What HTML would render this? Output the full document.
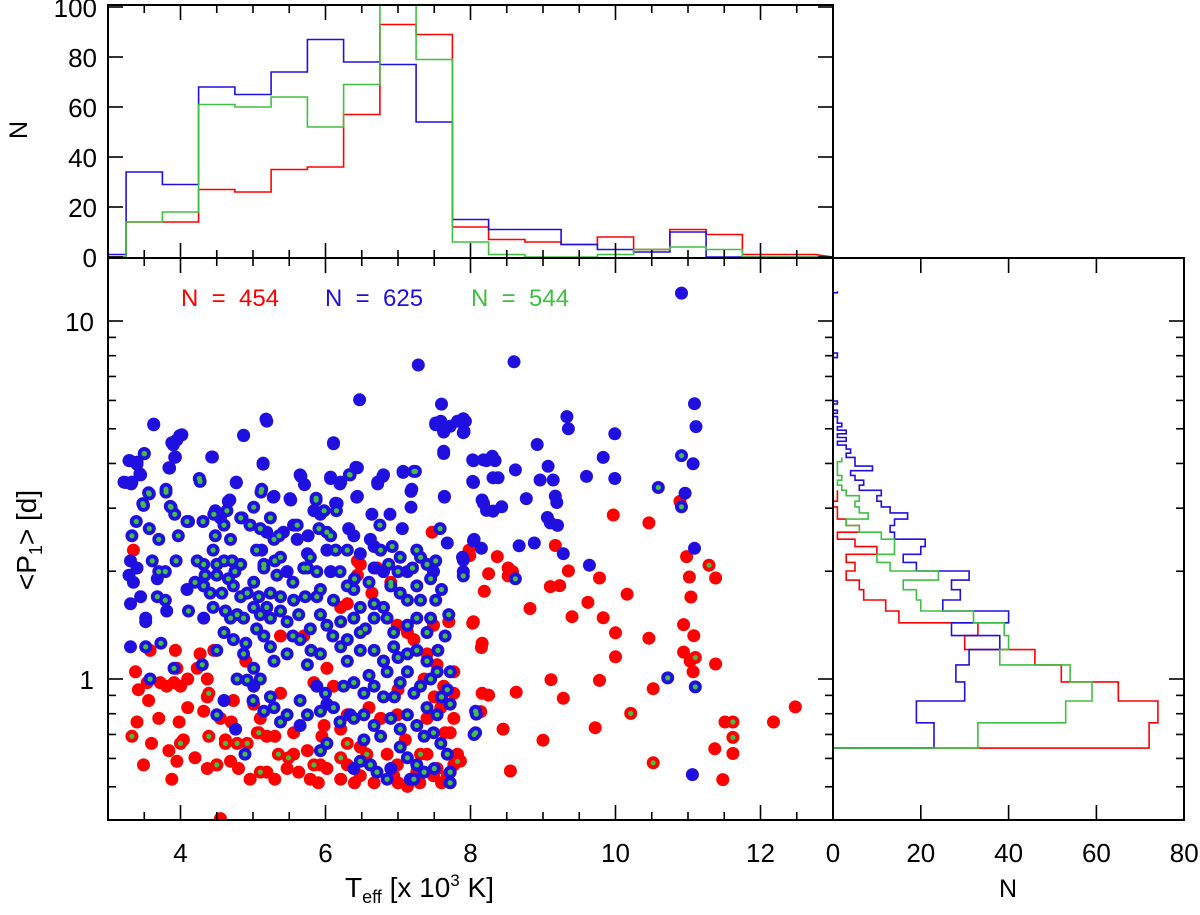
<!DOCTYPE html>
<html><head><meta charset="utf-8"><style>
html,body{margin:0;padding:0;background:#fff;}
svg{display:block;font-family:"Liberation Sans",sans-serif;}
</style></head><body>
<svg id="chart" width="1200" height="915" viewBox="0 0 1200 915" xmlns="http://www.w3.org/2000/svg">
<g id="marks"></g>
<g id="hists"></g>
<g id="axes"></g>
<text x="181" y="306" font-size="24" fill="#ff0000" xml:space="preserve">N  =  454</text>
<text x="325" y="306" font-size="24" fill="#2010e0" xml:space="preserve">N  =  625</text>
<text x="471" y="306" font-size="24" fill="#40c040" xml:space="preserve">N  =  544</text>
<text x="345" y="897" font-size="28">T<tspan font-size="18" dy="6">eff</tspan><tspan dy="-6"> [x 10</tspan><tspan font-size="17" dy="-11">3</tspan><tspan dy="11"> K]</tspan></text>
<text x="1008" y="897" font-size="25" text-anchor="middle">N</text>
<text transform="translate(36,540) rotate(-90)" font-size="28" text-anchor="middle">&lt;P<tspan font-size="18" dy="6">1</tspan><tspan dy="-6">&gt; [d]</tspan></text>
<text transform="translate(27,130) rotate(-90)" font-size="25" text-anchor="middle">N</text>
</svg>
<script>
// ---------- data ----------
const topBinStart = 2.75, topBinWidth = 0.5;
const blueTop  = [1,34,29,68,65,74,87,78,77,54,15,11,11,5,3,2,10,0,0,0];
const redTop   = [0,14,14,27,26,35,36,57,93,89,12,7,6,5,8,3,11,9,1,1];
const greenTop = [0,14,18,61,60,64,52,69,115,79,6,1,0,0,1,3,4,3,0,0];
const rightBinStart = 0.641, rightBinWidth = 0.1135;
const blueRight  = [23,19,30,28,31,38,27,40,25,29,27,31,19,16,20,21,14,13,14,17,13,11,10,11,6,7,5,4,9,5,5,3,4,3,1,3,1,3,1,2,1,1,0,1,0,0,1,0,0,0,0,0,0,0,0,0,0,0,0,0,0,0,0,0,1,1,0,0,0,0,0,0,0,0,0,0,0,0,0,0,0,0,0,0,0,0,0,0,0,0,0,0,0,0,0,0,0,0,0,0,1];
const greenRight = [33,53,59,54,38,40,39,32,20,19,16,24,13,10,14,14,11,6,3,8,6,5,6,3,2,1,2,1,1,1,2];
const redRight   = [72,74,65,52,46,30,33,15,12,7,6,3,5,3,10,5,1,6,3,1,1,0,1,1];
const xTicks = [4,6,8,10,12];
const topYTicks = [0,20,40,60,80,100];
const rightXTicks = [0,20,40,60,80];
const yTicks = [1,10];
// stars: [Teff (10^3 K), log10 <P1> (d)]
const blueOnly = [
[7.28,0.877],[6.47,0.780],[7.60,0.768],[3.63,0.712],[5.18,0.726],[4.87,0.681],[4.02,0.682],[3.95,0.668],[3.90,0.654],[3.92,0.619],[3.30,0.61],[3.40,0.606],[3.85,0.589],[3.44,0.573],[3.24,0.549],[3.32,0.545],[4.43,0.620],[5.14,0.603],[6.11,0.657],[7.52,0.715],[7.59,0.720],[7.63,0.692],[7.72,0.706],[7.90,0.727],[7.93,0.720],[7.91,0.692],[7.63,0.636],[8.03,0.612],[8.18,0.612],[8.03,0.552],[4.77,0.548],[5.66,0.566],[5.71,0.543],[6.07,0.564],[6.20,0.545],[6.42,0.591],[6.72,0.545],[6.79,0.566],[7.07,0.577],[7.18,0.524],[7.64,0.508],[5.28,0.508],[5.51,0.504],[6.43,0.508],[6.14,0.491],[4.66,0.496],
[10.91,1.078],[8.60,0.886],[11.09,0.769],[11.11,0.705],[7.90,0.718],[7.90,0.688],[9.33,0.733],[9.35,0.699],[9.99,0.685],[8.92,0.655],[8.04,0.61],[8.22,0.61],[8.30,0.622],[8.34,0.61],[8.04,0.549],[8.31,0.562],[8.38,0.562],[8.62,0.584],[9.07,0.594],[8.96,0.556],[9.14,0.556],[9.83,0.619],[9.60,0.566],[9.99,0.560],[11.07,0.601],[10.96,0.519],[8.18,0.491],[8.22,0.471],[8.31,0.469],[8.43,0.481],[8.77,0.504],[9.17,0.511],[9.19,0.493],[9.06,0.451],[9.10,0.436],[9.20,0.429],[8.04,0.386],[8.15,0.365],[7.90,0.332],[8.67,0.372],[8.88,0.380],[9.28,0.350],[9.64,0.318],[11.09,0.365],[11.06,-0.267],
[3.63,0.71],[5.19,0.72],[3.99,0.68],[3.88,0.66],[4.87,0.68],[6.11,0.66],[3.93,0.62],[4.44,0.62],[3.84,0.59],[3.29,0.61],[3.40,0.60],[3.45,0.57],[3.22,0.55],[3.33,0.55],[5.14,0.60],[4.77,0.55],[5.65,0.57],[6.07,0.56],[6.21,0.55],[6.44,0.59],[6.72,0.55],[6.80,0.57],[7.07,0.58],[7.19,0.53],[7.18,0.48],[7.64,0.51],[7.63,0.63],[7.52,0.71],[7.63,0.69],[7.82,0.72],[7.91,0.69],[8.04,0.61],[8.04,0.55],[8.16,0.50],[5.52,0.50],[5.29,0.51],[6.44,0.51],[6.16,0.49],[5.84,0.47],[5.93,0.46],[4.68,0.50],[4.11,0.44],[4.48,0.47],[4.55,0.45],[5.19,0.41],[4.85,0.45],[6.64,0.46],[6.89,0.46],[7.06,0.42],[6.32,0.42],[6.39,0.40],[6.62,0.39],[6.67,0.37],[5.76,0.40],[5.61,0.39],[5.12,0.36],[5.42,0.41],[5.56,0.43],[7.68,0.38],[8.05,0.39],[7.89,0.34],[7.90,0.30],[3.31,0.33],[3.40,0.31],[3.29,0.29],[3.35,0.27],[3.45,0.23],[3.31,0.21],[3.52,0.17],[3.52,0.16],[3.81,0.19],[3.68,0.28],[4.09,0.25],[4.32,0.17],[5.47,0.30],[5.75,0.35],[6.02,0.36],[6.07,0.30],[6.48,0.35],[6.67,0.31],[6.80,0.30],[7.13,0.30],[7.49,0.30],[3.31,0.09],[4.60,-0.06],[4.76,-0.14],[5.01,-0.02],[5.88,-0.02],[6.02,-0.07],[6.34,-0.10],[5.65,-0.13],[6.39,-0.25],[6.62,-0.24],[6.90,-0.25],[7.17,-0.28]
];
const blueGreen = [
[3.50,0.629],[4.27,0.552],[3.57,0.517],[3.80,0.522],[6.33,0.571],[7.22,0.580],[5.11,0.522],[5.87,0.505],[3.49,0.485],[3.86,0.482],
[10.91,0.624],[10.59,0.535],[10.91,0.481],[7.90,0.288],[8.62,0.280],[10.72,0.003],[11.10,-0.022],[8.08,-0.098],[8.05,-0.155],
[3.50,0.63],[4.26,0.56],[3.56,0.52],[3.80,0.53],[3.48,0.49],[3.87,0.48],[3.92,0.46],[3.39,0.44],[3.57,0.42],[3.33,0.40],[3.70,0.39],[3.97,0.40],[4.09,0.44],[4.31,0.44],[4.46,0.46],[4.64,0.47],[4.60,0.43],[4.48,0.40],[4.69,0.39],[4.83,0.45],[4.96,0.43],[5.10,0.42],[5.01,0.48],[5.12,0.53],[5.24,0.45],[5.29,0.39],[5.36,0.40],[5.61,0.43],[5.38,0.34],[5.15,0.32],[5.87,0.50],[5.98,0.47],[6.15,0.47],[5.91,0.42],[6.02,0.41],[6.07,0.40],[6.34,0.57],[6.14,0.36],[6.30,0.36],[6.75,0.43],[6.76,0.36],[6.92,0.37],[7.24,0.58],[7.26,0.36],[7.58,0.42],[7.52,0.33],[7.40,0.32],[7.31,0.34],[6.87,0.32],[7.03,0.34],
[3.61,0.33],[3.70,0.30],[3.79,0.30],[3.94,0.33],[4.23,0.33],[4.32,0.32],[4.50,0.32],[4.60,0.33],[4.71,0.33],[4.83,0.32],[4.34,0.29],[4.50,0.29],[4.66,0.28],[4.73,0.26],[5.01,0.27],[5.15,0.31],[5.33,0.29],[5.79,0.34],[5.75,0.31],[5.88,0.30],[5.93,0.25],[4.32,0.26],[4.41,0.24],[4.57,0.24],[4.83,0.23],[4.92,0.24],[5.08,0.23],[5.24,0.24],[5.38,0.23],[5.19,0.20],[5.38,0.19],[5.56,0.22],[5.72,0.23],[5.88,0.23],[6.11,0.22],[6.30,0.26],[6.39,0.25],[6.48,0.20],[6.67,0.21],[6.80,0.20],[7.03,0.24],[7.13,0.22],[7.26,0.26],[7.31,0.22],[7.52,0.22],[3.68,0.23],[3.79,0.22],[4.11,0.19],[4.62,0.19],[4.69,0.17],[4.78,0.18],[4.87,0.17],[5.01,0.20],[5.10,0.18],[5.24,0.17],[5.47,0.16],[5.63,0.18],[5.79,0.14],[5.93,0.18],[6.02,0.15],[6.21,0.16],[6.39,0.17],[6.48,0.13],[6.67,0.17],[6.85,0.17],[6.94,0.13],[7.13,0.15],[7.26,0.17],[7.40,0.13],
[4.60,0.13],[4.73,0.11],[4.50,0.08],[4.87,0.07],[5.01,0.03],[5.15,0.12],[5.24,0.09],[5.29,0.05],[5.47,0.07],[5.65,0.11],[5.75,0.04],[5.93,0.07],[6.21,0.09],[6.30,0.05],[6.48,0.08],[6.67,0.08],[6.80,0.05],[6.94,0.09],[7.13,0.07],[7.26,0.08],[7.40,0.05],[7.54,0.02],[7.72,0.02],[3.52,0.09],[3.73,0.10],[3.91,0.03],[4.30,0.04],[3.58,0.00],[4.78,0.00],[4.92,-0.003],[5.10,0.00],[5.24,-0.05],[5.29,-0.08],[5.47,-0.10],[5.38,-0.12],[5.65,-0.06],[5.75,-0.10],[5.93,-0.09],[6.11,-0.08],[6.25,-0.02],[6.39,-0.01],[6.53,-0.04],[6.67,-0.02],[6.80,-0.05],[7.03,-0.01],[7.13,0.02],[7.22,-0.04],[7.31,-0.02],[7.40,-0.08],[7.54,-0.10],[7.68,-0.03],[7.72,-0.07],[6.39,-0.11],[6.53,-0.10],[6.67,-0.13],[6.76,-0.16],[6.90,-0.11],[7.03,-0.14],[7.13,-0.10],[7.26,-0.13],[7.36,-0.16],[7.49,-0.15],[7.59,-0.18],[7.68,-0.21],[7.72,-0.26],[7.72,-0.29],[6.48,-0.23],[6.62,-0.24],[6.71,-0.26],[6.85,-0.28],[7.03,-0.19],[7.13,-0.22],[7.26,-0.24],[7.36,-0.26],[7.22,-0.28],[6.53,-0.17],[6.02,-0.18],[5.93,-0.20],[4.50,-0.10],[4.89,-0.21],[8.07,-0.15],[8.07,-0.09],
[4.45,0.36],[4.75,0.30],[5.05,0.36],[5.30,0.33],[5.55,0.27],[5.70,0.31],[6.20,0.30],[6.40,0.28],[6.60,0.27],[6.90,0.26],[7.00,0.30],[7.20,0.31],[7.45,0.28],[7.60,0.25],[7.70,0.18],[7.65,0.12],[7.55,0.08],[7.45,0.17],[6.10,0.12],[6.30,0.11],[6.55,0.14],[5.55,0.12],[5.05,0.14],[4.90,0.10],[4.45,0.20],[4.20,0.27],[6.85,0.02],[7.00,0.06],[6.95,-0.05],[5.00,-0.06],[5.15,-0.09],[6.20,-0.12],[6.00,-0.04],[5.80,0.08],[6.60,0.01],[7.45,0.00],[7.60,-0.05],[7.50,-0.25]
];
const redOnly = [
[9.97,0.458],[10.46,0.436],[10.89,0.496],[9.17,0.373],[7.99,0.345],[8.37,0.342],[8.52,0.310],[8.58,0.300],[8.52,0.288],[8.25,0.294],[8.19,0.245],[9.10,0.258],[9.23,0.261],[9.35,0.302],[9.78,0.282],[10.16,0.237],[8.82,0.197],[9.62,0.214],[9.40,0.174],[9.83,0.171],[8.03,0.156],[10.0,0.129],[10.46,0.114],[8.15,0.088],[10.0,0.062],[10.98,0.342],[11.02,0.285],[11.04,0.229],[11.38,0.282],[10.94,0.152],[11.08,0.121],[10.94,0.075],[11.03,0.050],[11.07,0.020],[11.38,0.042],[9.11,-0.002],[9.78,-0.004],[10.52,-0.027],[8.63,-0.037],[8.25,-0.045],[9.28,-0.054],[8.14,-0.091],[12.48,-0.078],[11.51,-0.120],[12.18,-0.120],[8.45,-0.140],[9.72,-0.136],[9.0,-0.171],[11.37,-0.195],[11.62,-0.208],[8.55,-0.257],[11.48,-0.281],[7.86,-0.229],
[7.47,0.41],[3.35,0.36],[6.44,0.29],[6.64,0.24],[6.44,0.33],[7.98,0.36],[7.70,0.16],[8.04,0.16],[8.16,0.10],[8.16,-0.04],[3.38,0.02],[3.42,-0.03],[3.56,-0.06],[3.72,-0.01],[3.91,-0.01],[3.98,-0.12],[3.40,-0.12],[3.70,-0.11],[3.84,-0.20],[3.95,-0.23],[3.49,-0.24],[3.88,-0.28],[4.27,0.07],[4.46,0.08],[4.90,0.05],[4.37,-0.00],[4.37,-0.05],[4.32,-0.09],[4.55,-0.11],[4.62,-0.17],[4.37,-0.25],[4.50,-0.24],[4.69,-0.23],[4.96,-0.28],[5.19,-0.26],[5.47,-0.25],[5.63,-0.26],[5.79,-0.28],[6.02,-0.25],[6.21,-0.28],[6.30,-0.24],[6.94,-0.27],[7.13,-0.30],[5.01,-0.07],[5.38,-0.04],[5.10,-0.11],[5.06,-0.15],[5.56,-0.21],[5.75,-0.20],[5.93,-0.24],[5.56,-0.15],[6.21,-0.14],[6.30,-0.10],[6.11,-0.02],[5.84,-0.01],[6.02,0.03],[6.21,0.20],[6.30,0.21],[7.13,0.13],[7.22,0.11],[7.40,0.07],[7.54,0.04],[7.63,-0.02],[7.77,-0.04],[7.77,-0.11],[7.72,-0.15],[7.82,-0.21],[7.77,-0.24],[7.54,-0.25],[7.40,-0.21],[6.99,-0.10],[6.85,-0.21],[6.48,-0.19],[7.49,-0.27],[7.26,-0.26],[4.55,-0.39],[6.48,0.32],[6.71,0.31],[4.04,-0.17],[3.95,0.03],[4.23,0.03],[3.58,0.08],[3.93,0.08],[4.00,-0.02],[3.81,-0.02],[3.54,-0.01],
[6.76,-0.11],[7.40,-0.11],[7.59,-0.08],[6.99,-0.24],[6.48,-0.27],[7.68,-0.27],[5.98,-0.13],[6.67,-0.29],[7.36,-0.00],[7.77,0.02],[7.49,0.15],[6.99,0.15],[5.70,0.12],[5.38,0.12],[4.73,-0.06],[5.19,-0.16],
[4.20,-0.22],[4.80,-0.25],[5.30,-0.28],[5.90,-0.29],[6.40,-0.29],[7.00,-0.29],[7.30,-0.29],[7.60,-0.29],[4.10,-0.08],[4.70,-0.12],[5.30,-0.16],[5.95,-0.16],[6.60,-0.08],[7.10,-0.17],[7.50,-0.05],[7.65,-0.15],[3.60,-0.18],[4.10,0.00],[6.80,0.05],[7.00,-0.03]
];
const redGreen = [
[11.29,0.318],[11.10,0.060],[10.21,-0.096],[11.62,-0.120],[11.62,-0.163],[10.52,-0.234],
[3.33,-0.16],[4.00,-0.18],[4.39,-0.04],[4.39,-0.16],[4.62,-0.18],[4.78,-0.18],[4.92,-0.18],[5.08,-0.15],[5.10,-0.26],[5.35,-0.21],[5.49,-0.22],[5.84,-0.24],[6.30,-0.18],[6.21,-0.22],[6.57,-0.21],[6.90,0.27],[7.31,-0.21],[7.82,-0.23],[4.50,-0.24]
];

// ---------- scales ----------
const NS = 'http://www.w3.org/2000/svg';
const L = 108, R = 833, R2 = 1184, TOP = 5, MID = 258, BOT = 820;
const xT = t => L + (t - 3) * 72.5;
const yP = lp => 679 - lp * 358;
const yN = n => 257 - n * 2.5;
const xN = n => 833 + n * 4.39;
const BLUE = '#2010e0', RED = '#ff0000', GREEN = '#40c040';

function mk(tag, attrs, parent) {
  const e = document.createElementNS(NS, tag);
  for (const k in attrs) e.setAttribute(k, attrs[k]);
  parent.appendChild(e);
  return e;
}
const marks = document.getElementById('marks');
const hists = document.getElementById('hists');
const axes = document.getElementById('axes');

const defs = mk('defs', {}, document.getElementById('chart'));
const cp = mk('clipPath', {id: 'mainclip'}, defs);
mk('rect', {x: L, y: MID, width: R - L, height: BOT - MID}, cp);
const cp2 = mk('clipPath', {id: 'topclip'}, defs);
mk('rect', {x: L, y: TOP, width: R - L, height: MID - TOP}, cp2);
marks.setAttribute('clip-path', 'url(#mainclip)');

function dots(list, color, r, name) {
  list.forEach(p => {
    const c = mk('circle', {cx: xT(p[0]).toFixed(1), cy: yP(p[1]).toFixed(1), r: r, fill: color}, marks);
    
    
  });
}
dots(redOnly, RED, 6.5, 'red-star-point');
dots(redGreen, RED, 6.5, 'red-star-point');
dots(blueOnly, BLUE, 6.5, 'blue-star-point');
dots(blueGreen, BLUE, 6.5, 'blue-star-point');
dots(blueGreen, GREEN, 2.6, 'green-star-point');
dots(redGreen, GREEN, 2.6, 'green-star-point');

function topHist(vals, color, name) {
  let d = 'M' + L + ',' + yN(vals[0]).toFixed(1);
  vals.forEach((v, i) => {
    const x0 = xT(topBinStart + i * topBinWidth), x1 = xT(topBinStart + (i + 1) * topBinWidth);
    d += ' L' + Math.max(x0, L).toFixed(1) + ',' + yN(v).toFixed(1) + ' L' + x1.toFixed(1) + ',' + yN(v).toFixed(1);
  });
  d += ' L' + R + ',' + yN(0).toFixed(1);
  const p = mk('path', {d: d, fill: 'none', stroke: color, 'stroke-width': 1.6, 'clip-path': 'url(#topclip)'}, hists);
  
  
}
topHist(redTop, RED, 'top-histogram-red');
topHist(blueTop, BLUE, 'top-histogram-blue');
topHist(greenTop, GREEN, 'top-histogram-green');

function rightHist(vals, color, name) {
  let d = 'M' + xN(0) + ',' + yP(Math.log10(rightBinStart)).toFixed(1);
  vals.forEach((v, i) => {
    const y0 = yP(Math.log10(rightBinStart + i * rightBinWidth)), y1 = yP(Math.log10(rightBinStart + (i + 1) * rightBinWidth));
    d += ' L' + xN(v).toFixed(1) + ',' + y0.toFixed(1) + ' L' + xN(v).toFixed(1) + ',' + Math.max(y1, MID).toFixed(1);
  });
  const p = mk('path', {d: d, fill: 'none', stroke: color, 'stroke-width': 1.6}, hists);
  
  
}
rightHist(redRight, RED, 'right-histogram-red');
rightHist(blueRight, BLUE, 'right-histogram-blue');
rightHist(greenRight, GREEN, 'right-histogram-green');

function frame(x, y, w, h, name) {
  const r = mk('rect', {x: x, y: y, width: w, height: h, fill: 'none', stroke: '#000', 'stroke-width': 2}, axes);
  
  
}
frame(L, TOP, R - L, MID - TOP, 'top-panel-frame');
frame(L, MID, R - L, BOT - MID, 'main-panel-frame');
frame(R, MID, R2 - R, BOT - MID, 'right-panel-frame');

function line(x1, y1, x2, y2) {
  mk('line', {x1: x1, y1: y1, x2: x2, y2: y2, stroke: '#000', 'stroke-width': 1.6}, axes);
}
function label(txt, x, y, anchor, name) {
  const t = mk('text', {x: x, y: y, 'font-size': 26, 'text-anchor': anchor}, axes);
  t.textContent = txt;
  
  
}
for (let t = 3.5; t < 13; t += 0.5) {
  const x = xT(t), major = xTicks.includes(t);
  const len = major ? 15 : 8;
  line(x, BOT, x, BOT - len); line(x, MID, x, MID + len);
  line(x, MID, x, MID - len); line(x, TOP, x, TOP + len);
}
xTicks.forEach(t => label(String(t), xT(t), 862, 'middle', 'x-tick-label'));
const minors = [0.5,0.6,0.7,0.8,0.9,2,3,4,5,6,7,8,9];
minors.forEach(v => { const y = yP(Math.log10(v)); line(L, y, L + 8, y); line(R, y, R - 8, y); line(R2, y, R2 - 8, y); });
yTicks.forEach(v => {
  const y = yP(Math.log10(v));
  line(L, y, L + 15, y); line(R, y, R - 15, y); line(R2, y, R2 - 15, y);
  label(String(v), 94, y + 10, 'end', 'y-tick-label');
});
topYTicks.forEach(n => {
  const y = yN(n);
  line(L, y, L + 15, y); line(R, y, R - 15, y);
  label(String(n), 97, y + 10, 'end', 'top-y-tick-label');
});
rightXTicks.forEach(n => {
  const x = xN(n);
  if (n > 0 && n < 80) { line(x, BOT, x, BOT - 15); line(x, MID, x, MID + 15); }
  label(String(n), x, 862, 'middle', 'right-x-tick-label');
});
</script>
</body></html>
